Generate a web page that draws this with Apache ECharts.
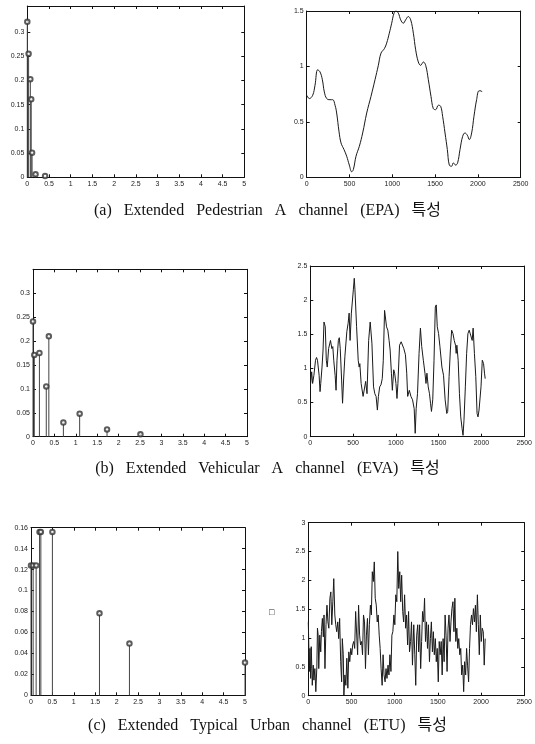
<!DOCTYPE html>
<html><head><meta charset="utf-8">
<script src="https://cdn.jsdelivr.net/npm/echarts@6/dist/echarts.min.js"></script>
<style>html,body{margin:0;padding:0;background:#fff}#c{width:535px;height:744px}</style>
</head><body><div id="c"></div>
<script>
// ---- tick labels ----
const delayTicks = [0, 0.5, 1, 1.5, 2, 2.5, 3, 3.5, 4, 4.5, 5];
const pdpTicksAB = [0, 0.05, 0.1, 0.15, 0.2, 0.25, 0.3];
const pdpTicksC = [0, 0.02, 0.04, 0.06, 0.08, 0.1, 0.12, 0.14, 0.16];
const freqTicks = [0, 500, 1000, 1500, 2000, 2500];
const gainTicksA = [0, 0.5, 1, 1.5];
const gainTicksB = [0, 0.5, 1, 1.5, 2, 2.5];
const gainTicksC = [0, 0.5, 1, 1.5, 2, 2.5, 3];

// ---- power delay profiles (delay in us, normalized power) ----
const epaDelay = [0, 0.03, 0.07, 0.09, 0.11, 0.19, 0.41];
const epaPower = [0.3213, 0.2552, 0.2028, 0.1611, 0.0509, 0.0061, 0.0027];
const evaDelay = [0, 0.03, 0.15, 0.31, 0.37, 0.71, 1.09, 1.73, 2.51];
const evaPower = [0.241, 0.171, 0.175, 0.105, 0.210, 0.0297, 0.0481, 0.0152, 0.0049];
const etuDelay = [0, 0.05, 0.12, 0.2, 0.23, 0.5, 1.6, 2.3, 5.0];
const etuPower = [0.124, 0.124, 0.124, 0.156, 0.156, 0.156, 0.0783, 0.0494, 0.0312];

// ---- channel magnitude responses ----
const epaFreq = [0,31,70,97,128,156,183,206,234,272,304,331,350,378,401,436,467,498,526,545,576,615,654,701,751,798,837,868,907,934,965,993,1020,1043,1071,1098,1129,1156,1187,1215,1246,1273,1304,1331,1363,1390,1421,1452,1479,1507,1538,1565,1588,1616,1643,1666,1693,1713,1740,1763,1791,1822,1849,1876,1900,1927,1954,1985,2013,2036,2048];
const epaGain = [0.74,0.71,0.74,0.83,0.97,0.95,0.88,0.77,0.71,0.70,0.70,0.65,0.58,0.41,0.31,0.25,0.19,0.11,0.05,0.07,0.19,0.28,0.40,0.58,0.73,0.88,1.01,1.12,1.16,1.21,1.30,1.39,1.48,1.50,1.48,1.42,1.39,1.42,1.45,1.42,1.30,1.15,1.04,1.01,1.04,1.01,0.88,0.73,0.62,0.61,0.65,0.64,0.55,0.40,0.25,0.11,0.10,0.13,0.11,0.13,0.25,0.37,0.40,0.38,0.34,0.40,0.55,0.70,0.78,0.78,0.77];

const evaFreq = [4,16,27,42,61,73,84,103,114,122,137,149,160,175,187,198,214,225,236,252,263,274,290,301,312,328,339,350,366,377,389,404,427,442,454,465,480,503,514,522,541,560,571,579,594,617,632,647,663,682,700,720,739,754,769,784,796,811,826,841,853,868,880,891,906,921,933,948,959,975,986,1001,1013,1024,1043,1062,1081,1093,1112,1127,1138,1157,1176,1195,1214,1226,1237,1253,1271,1287,1302,1321,1340,1352,1363,1378,1393,1405,1416,1431,1446,1461,1472,1484,1499,1515,1538,1557,1576,1595,1606,1622,1637,1652,1667,1682,1697,1705,1713,1728,1743,1758,1774,1785,1796,1812,1827,1842,1857,1869,1880,1892,1903,1918,1934,1949,1960,1972,1983,1995,2010,2025,2036,2044];
const evaGain = [0.78,0.95,0.78,0.90,1.12,1.16,1.12,0.90,0.66,0.78,1.02,1.27,1.68,1.61,1.12,1.02,1.29,1.27,1.41,1.29,1.32,1.12,0.90,0.68,1.12,1.41,1.45,1.29,0.83,0.49,0.83,1.17,1.54,1.66,1.81,1.41,1.81,2.15,2.32,2.15,1.61,1.12,1.02,1.07,0.78,0.59,0.61,0.81,0.63,1.41,1.68,1.37,0.73,0.63,0.59,0.39,0.59,0.73,0.76,0.85,1.12,1.85,1.86,1.61,1.56,1.41,1.27,0.93,0.68,0.98,0.93,0.78,0.56,0.78,1.34,1.39,1.41,1.29,1.20,0.93,0.59,0.68,0.59,0.54,0.41,0.05,0.41,0.63,1.22,1.59,1.32,1.12,0.93,0.78,0.93,0.73,0.63,0.49,0.37,0.54,1.12,1.90,1.93,1.61,1.51,1.32,1.02,0.90,0.54,0.34,0.37,0.88,1.27,1.56,1.51,1.41,1.34,1.22,1.34,1.12,0.63,0.29,0.12,0.02,0.24,0.73,1.22,1.51,1.56,1.54,1.56,1.41,1.59,1.22,0.88,0.34,0.29,0.39,0.37,0.73,1.12,1.07,0.93,0.85];

const etuFreq = [0,12,19,27,34,46,57,65,76,87,99,106,114,121,133,144,152,163,174,182,193,205,216,227,238,250,261,272,284,295,307,318,329,341,352,363,375,386,394,405,412,424,435,446,458,469,480,492,503,514,526,537,548,560,571,582,594,605,617,628,639,651,662,673,685,696,707,719,730,741,753,764,775,787,798,809,821,832,843,855,866,877,889,900,911,923,934,945,957,968,979,991,1002,1013,1025,1036,1047,1059,1070,1081,1093,1104,1115,1127,1138,1150,1161,1172,1184,1195,1206,1221,1233,1244,1255,1267,1278,1289,1301,1312,1323,1335,1346,1357,1369,1380,1391,1403,1414,1425,1437,1448,1459,1471,1482,1493,1505,1516,1527,1539,1550,1561,1573,1584,1595,1607,1618,1629,1641,1652,1663,1675,1686,1697,1708,1720,1731,1742,1754,1765,1776,1788,1799,1810,1822,1833,1844,1856,1867,1878,1890,1901,1912,1924,1935,1946,1958,1969,1980,1992,2003,2014,2026,2037,2048];
const etuGain = [1.28,0.42,0.82,0.30,0.85,0.18,0.53,0.27,0.47,0.07,0.50,1.17,1.05,0.47,1.05,0.76,1.11,1.34,1.02,1.40,0.47,1.23,1.57,1.28,1.17,1.69,1.80,1.23,1.63,2.03,1.40,1.23,1.11,1.28,0.99,1.34,0.59,0.24,0.99,0.71,0.01,0.36,0.18,0.65,0.13,0.76,0.59,0.82,0.71,0.88,0.94,0.82,1.46,1.46,0.71,1.57,1.05,0.88,0.94,0.71,1.40,1.28,0.47,1.05,1.34,0.71,1.23,1.57,1.40,2.15,1.98,2.32,1.69,1.57,1.28,1.40,1.05,0.82,0.47,0.18,0.71,0.36,0.24,0.47,0.30,0.53,0.36,0.71,0.42,1.05,1.11,1.40,1.23,1.75,1.63,2.50,1.86,2.15,1.63,2.09,1.46,1.28,1.75,1.17,1.40,0.88,1.46,0.76,0.94,1.28,0.53,1.23,0.71,0.18,1.05,1.23,0.76,1.23,0.47,0.94,1.46,1.28,1.69,0.94,1.28,0.82,1.23,0.59,0.99,1.28,0.76,1.11,0.71,0.99,0.59,0.82,0.24,0.94,0.71,0.94,0.36,0.99,0.59,1.40,1.05,0.42,1.17,1.40,0.94,1.28,1.51,1.63,1.11,1.69,0.94,1.17,0.82,0.99,0.71,0.82,0.36,0.53,0.07,0.59,0.36,0.82,0.53,0.24,0.82,1.23,1.40,1.23,1.51,1.28,1.57,1.11,1.75,1.23,0.71,1.40,0.94,1.17,1.11,0.53,0.99];

const captions = [
  '(a)   Extended   Pedestrian   A   channel   (EPA)   특성',
  '(b)   Extended   Vehicular   A   channel   (EVA)   특성',
  '(c)   Extended   Typical   Urban   channel   (ETU)   특성'
];

// ---- layout ----
const grids = [
  {left: 27.3, top: 6, width: 217, height: 171.3},
  {left: 306.7, top: 11, width: 214, height: 166.3},
  {left: 33, top: 269.3, width: 214, height: 167.4},
  {left: 310.3, top: 266, width: 219, height: 170.7},
  {left: 31, top: 527.7, width: 214, height: 167.6},
  {left: 308.3, top: 522.7, width: 220.4, height: 173}
];
const panels = [
  {x: [0, 5, delayTicks], y: [0, 0.354, pdpTicksAB]},
  {x: [0, 2500, freqTicks], y: [0, 1.5, gainTicksA]},
  {x: [0, 5, delayTicks], y: [0, 0.35, pdpTicksAB]},
  {x: [0, 2500, freqTicks], y: [0, 2.5, gainTicksB]},
  {x: [0, 5, delayTicks], y: [0, 0.16, pdpTicksC]},
  {x: [0, 2500, freqTicks], y: [0, 3, gainTicksC]}
];

const lab = {fontFamily: 'Liberation Sans', fontSize: 7, color: '#222', margin: 3,
  formatter: function (v) { return String(+(+v).toFixed(4)); }};
const axLine = {show: true, onZero: false, lineStyle: {color: '#111', width: 1}};
const xAxes = [], yAxes = [];
panels.forEach((p, g) => {
  ['bottom', 'top'].forEach((pos, k) => {
    xAxes.push({
      type: 'value', gridIndex: g, position: pos, min: p.x[0], max: p.x[1],
      axisLine: axLine, splitLine: {show: false},
      axisTick: {show: true, inside: true, length: 3, customValues: p.x[2], lineStyle: {color: '#111'}},
      axisLabel: Object.assign({show: k === 0, customValues: p.x[2]}, lab)
    });
  });
  ['left', 'right'].forEach((pos, k) => {
    yAxes.push({
      type: 'value', gridIndex: g, position: pos, min: p.y[0], max: p.y[1],
      axisLine: axLine, splitLine: {show: false},
      axisTick: {show: true, inside: true, length: 3, customValues: p.y[2], lineStyle: {color: '#111'}},
      axisLabel: Object.assign({show: k === 0, customValues: p.y[2]}, lab)
    });
  });
});

function stems(delay, power, g) {
  const data = delay.map((d, i) => [d, power[i]]);
  return [
    {
      type: 'custom', xAxisIndex: 2 * g, yAxisIndex: 2 * g, data: data, clip: false,
      encode: {x: 0, y: 1},
      renderItem: function (params, api) {
        const top = api.coord([api.value(0), api.value(1)]);
        const base = api.coord([api.value(0), 0]);
        return {type: 'line', shape: {x1: base[0], y1: base[1], x2: top[0], y2: top[1]},
          style: {stroke: '#444', lineWidth: 1}};
      }
    },
    {
      type: 'scatter', xAxisIndex: 2 * g, yAxisIndex: 2 * g, data: data, clip: false,
      symbol: 'emptyCircle', symbolSize: 4.5,
      itemStyle: {color: '#333', borderColor: '#333', borderWidth: 0.7}
    }
  ];
}
function curve(xs, ys, g, smooth) {
  return {
    type: 'line', xAxisIndex: 2 * g, yAxisIndex: 2 * g, showSymbol: false, symbol: 'none',
    smooth: smooth, data: xs.map((x, i) => [x, ys[i]]),
    lineStyle: {color: '#1a1a1a', width: 1}
  };
}

const series = [].concat(
  stems(epaDelay, epaPower, 0), [curve(epaFreq, epaGain, 1, 0.4)],
  stems(evaDelay, evaPower, 2), [curve(evaFreq, evaGain, 3, false)],
  stems(etuDelay, etuPower, 4), [curve(etuFreq, etuGain, 5, false)]
);

const capY = [212, 470, 727];
const graphic = captions.map((t, i) => ({
  type: 'text', left: 'center', top: capY[i] - 9,
  style: {text: t, font: '16px "Liberation Serif", "Noto Sans CJK KR", serif', fill: '#111'}
}));
graphic.push({type: 'text', x: 269, y: 608, style: {text: '□', font: '9px "Liberation Sans"', fill: '#222'}});

const chart = echarts.init(document.getElementById('c'), null, {renderer: 'canvas'});
chart.setOption({
  animation: false,
  backgroundColor: '#fff',
  grid: grids,
  xAxis: xAxes,
  yAxis: yAxes,
  series: series,
  graphic: graphic
});
</script></body></html>
